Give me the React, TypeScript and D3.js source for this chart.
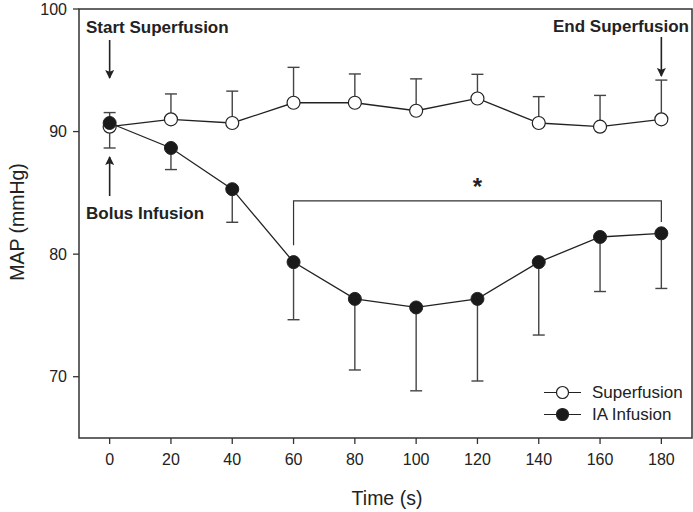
import React from "react";
import * as d3 from "d3";

const times = [0, 20, 40, 60, 80, 100, 120, 140, 160, 180];
const superMean = [90.4, 91.0, 90.7, 92.35, 92.35, 91.7, 92.7, 90.7, 90.4, 91.0];
const superUpper = [91.55, 93.07, 93.3, 95.24, 94.7, 94.3, 94.67, 92.85, 92.95, 94.2];
const iaMean = [90.7, 88.66, 85.3, 79.35, 76.35, 75.65, 76.35, 79.35, 81.4, 81.7];
const iaLower = [88.66, 86.9, 82.6, 74.65, 70.55, 68.85, 69.65, 73.4, 76.95, 77.2];
const xTicks = [0, 20, 40, 60, 80, 100, 120, 140, 160, 180];
const yTicks = [70, 80, 90, 100];
const seriesNames = ["Superfusion", "IA Infusion"];

const W = 693, H = 512;
const left = 79, right = 692, top = 9, bottom = 438;
const FONT = "Arial, 'Liberation Sans', Helvetica, sans-serif";

export default function App() {
  const x = d3.scaleLinear().domain([-10, 190]).range([left, right]);
  const y = d3.scaleLinear().domain([65, 100]).range([bottom, top]);
  const line = d3.line<[number, number]>().x(d => x(d[0])).y(d => y(d[1]));
  const sup = times.map((t, i) => [t, superMean[i]] as [number, number]);
  const ia = times.map((t, i) => [t, iaMean[i]] as [number, number]);
  const lc = "#222";
  const ec = "#444";
  const capW = 6;
  const r = 6.5;

  return (
    <svg width={W} height={H} style={{ position: "absolute", left: 0, top: 0, background: "#fff" }} fontFamily={FONT}>
      <defs>
        <marker id="ah" viewBox="0 0 10 10" refX="9" refY="5" markerWidth="15" markerHeight="9" orient="auto-start-reverse" markerUnits="userSpaceOnUse">
          <path d="M0,0 L10,5 L0,10 L2,5 z" fill="#222" />
        </marker>
      </defs>
      {/* frame */}
      <rect x={left} y={top} width={right - left} height={bottom - top} fill="none" stroke="#333" strokeWidth={1.5} />
      {/* y ticks */}
      {yTicks.map(v => (
        <g key={"y" + v}>
          <line x1={left - 6} x2={left} y1={y(v)} y2={y(v)} stroke="#333" strokeWidth={1.3} />
          <text x={left - 12} y={y(v)} dy="0.35em" textAnchor="end" fontSize={16} fill="#222">{v}</text>
        </g>
      ))}
      {xTicks.map(v => (
        <g key={"x" + v}>
          <line x1={x(v)} x2={x(v)} y1={bottom} y2={bottom + 6} stroke="#333" strokeWidth={1.3} />
          <text x={x(v)} y={bottom + 21} dy="0.35em" textAnchor="middle" fontSize={16} fill="#222">{v}</text>
        </g>
      ))}
      <text x={387} y={498} dy="0.35em" textAnchor="middle" fontSize={19.5} fill="#222">Time (s)</text>
      <text transform={`translate(17,222) rotate(-90)`} textAnchor="middle" dy="0.35em" fontSize={19.5} fill="#222">MAP (mmHg)</text>

      {/* error bars */}
      {times.map((t, i) => (
        <g key={"se" + t} stroke={ec} strokeWidth={1.4}>
          <line x1={x(t)} x2={x(t)} y1={y(superMean[i])} y2={y(superUpper[i])} />
          <line x1={x(t) - capW} x2={x(t) + capW} y1={y(superUpper[i])} y2={y(superUpper[i])} />
          <line x1={x(t)} x2={x(t)} y1={y(iaMean[i])} y2={y(iaLower[i])} />
          <line x1={x(t) - capW} x2={x(t) + capW} y1={y(iaLower[i])} y2={y(iaLower[i])} />
        </g>
      ))}
      {/* lines */}
      <path d={line(sup) || ""} fill="none" stroke={lc} strokeWidth={1.3} />
      <path d={line(ia) || ""} fill="none" stroke={lc} strokeWidth={1.3} />
      {sup.map(d => (
        <circle key={"sc" + d[0]} cx={x(d[0])} cy={y(d[1])} r={r} fill="#fff" stroke={lc} strokeWidth={1.2} />
      ))}
      {ia.map(d => (
        <circle key={"ic" + d[0]} cx={x(d[0])} cy={y(d[1])} r={r} fill="#1a1a1a" stroke={lc} strokeWidth={1} />
      ))}

      {/* significance bracket */}
      <path d={`M${x(60)},${y(80.73)} L${x(60)},${y(84.34)} L${x(180)},${y(84.34)} L${x(180)},${y(82.63)}`} fill="none" stroke="#333" strokeWidth={1.2} />
      <text x={x(120)} y={195} textAnchor="middle" fontSize={24} fontWeight="bold" fill="#222">*</text>

      {/* annotations */}
      <text x={86} y={33} fontSize={17} fontWeight="bold" fill="#222">Start Superfusion</text>
      <line x1={x(0)} x2={x(0)} y1={40} y2={78} stroke="#222" strokeWidth={1.6} markerEnd="url(#ah)" />
      <text x={86} y={219} fontSize={17} fontWeight="bold" fill="#222">Bolus Infusion</text>
      <line x1={x(0)} x2={x(0)} y1={196} y2={157} stroke="#222" strokeWidth={1.6} markerEnd="url(#ah)" />
      <text x={689} y={32} fontSize={17} fontWeight="bold" fill="#222" textAnchor="end">End Superfusion</text>
      <line x1={x(180)} x2={x(180)} y1={37} y2={76} stroke="#222" strokeWidth={1.6} markerEnd="url(#ah)" />

      {/* legend */}
      {seriesNames.map((n, i) => {
        const ly = 392.5 + i * 22;
        return (
          <g key={n}>
            <line x1={544} x2={581} y1={ly} y2={ly} stroke={lc} strokeWidth={1.2} />
            <circle cx={562.5} cy={ly} r={6} fill={i === 0 ? "#fff" : "#1a1a1a"} stroke={lc} strokeWidth={1.2} />
            <text x={592} y={ly} dy="0.35em" fontSize={17} fill="#222">{n}</text>
          </g>
        );
      })}
    </svg>
  );
}
